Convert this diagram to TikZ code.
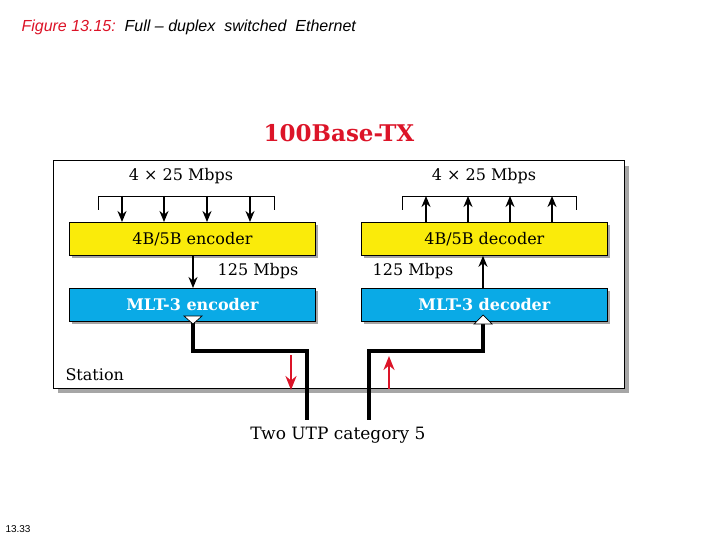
\documentclass[tikz,border=0pt]{standalone}
\usepackage{fontspec}
\newfontfamily\sans{Liberation Sans}
\newfontfamily\serif{DejaVu Serif}
\usetikzlibrary{arrows.meta}
\definecolor{yel}{RGB}{250,235,10}
\definecolor{blu}{RGB}{10,170,230}
\definecolor{redt}{RGB}{220,20,40}
\begin{document}
\begin{tikzpicture}[x=1pt,y=-1pt,
  box/.style={draw=black,line width=0.8pt,minimum width=246pt,minimum height=33pt,inner sep=0pt},
  lbl/.style={font=\serif\fontsize{16}{16}\selectfont},
  blbl/.style={font=\serif\bfseries\fontsize{16}{16}\selectfont},
  arr/.style={line width=2pt,-{Stealth[length=11pt,width=9pt]}},
  wire/.style={line width=4pt},
  rarr/.style={draw=redt,line width=2.5pt,-{Stealth[length=14pt,width=11pt]}}]
\useasboundingbox (0,0) rectangle (720,540);
\node[anchor=west,font=\sans\itshape\fontsize{16}{16}\selectfont] (hd) at (18,27) {\textcolor{redt}{Figure 13.15:}\ \ Full – duplex\ \ switched\ \ Ethernet};
\node[anchor=west,font=\sans\fontsize{10}{10}\selectfont] (pg) at (2,529) {13.33};
\node[font=\serif\bfseries\fontsize{23}{23}\selectfont,text=redt] (tt) at (339,133) {100Base-TX};
% station
\fill[gray!70] (58,166) rectangle (629,393);
\draw[line width=1pt,fill=white] (53,161) rectangle (624,388);
% boxes with shadows
\foreach \x/\y/\c in {69/222/yel,361/222/yel,69/288/blu,361/288/blu}{
  \fill[gray!70] (\x+3,\y+3) rectangle (\x+249,\y+36);}
\node[box,fill=yel,anchor=north west,lbl] (enc) at (69,222) {4B/5B encoder};
\node[box,fill=yel,anchor=north west,lbl] (dec) at (361,222) {4B/5B decoder};
\node[box,fill=blu,anchor=north west,text=white,blbl] (menc) at (69,288) {MLT-3 encoder};
\node[box,fill=blu,anchor=north west,text=white,blbl] (mdec) at (361,288) {MLT-3 decoder};
% brackets
\node[lbl] (l4) at (181,176) {4 × 25 Mbps};
\node[lbl] (r4) at (484,176) {4 × 25 Mbps};
\draw[line width=0.8pt] (98,210) -- (98,196) -- (274,196) -- (274,210);
\draw[line width=0.8pt] (402,210) -- (402,196) -- (576,196) -- (576,210);
\foreach \x in {122,164,207,250}{
  \coordinate (t\x) at (\x,196);
  \draw[arr] (t\x) -- (enc.north -| t\x);}
\foreach \x in {426,468,510,552}{
  \coordinate (u\x) at (\x,196);
  \draw[arr] (dec.north -| u\x) -- (u\x);}
% middle arrows
\coordinate (ml) at (193,0);
\coordinate (mr) at (483,0);
\draw[arr] (enc.south -| ml) -- (menc.north -| ml);
\draw[arr] (mdec.north -| mr) -- (dec.south -| mr);
\node[lbl] (m1) at (258,271) {125 Mbps};
\node[lbl] (m2) at (413,271) {125 Mbps};
% wires
\coordinate (lb) at (307,420);
\coordinate (rb) at (369,420);
\draw[wire] (menc.south -| ml) -- (193,351) -- (307,351) -- (lb);
\draw[wire] (mdec.south -| mr) -- (483,351) -- (369,351) -- (rb);
\draw[fill=white,line width=0.7pt] (184,316) -- (202,316) -- (193,324) -- cycle;
\draw[fill=white,line width=0.7pt] (474,324) -- (492,324) -- (483,315) -- cycle;
% red arrows
\coordinate (ra1) at (291,355); \coordinate (ra2) at (291,390);
\coordinate (rb1) at (389,389); \coordinate (rb2) at (389,356);
\draw[rarr] (ra1) -- (ra2);
\draw[rarr] (rb1) -- (rb2);
\node[lbl,anchor=west] (st) at (62,375) {Station};
\node[lbl,font=\serif\fontsize{17}{17}\selectfont] (utp) at (338,435) {Two UTP category 5};
\end{tikzpicture}
\end{document}
